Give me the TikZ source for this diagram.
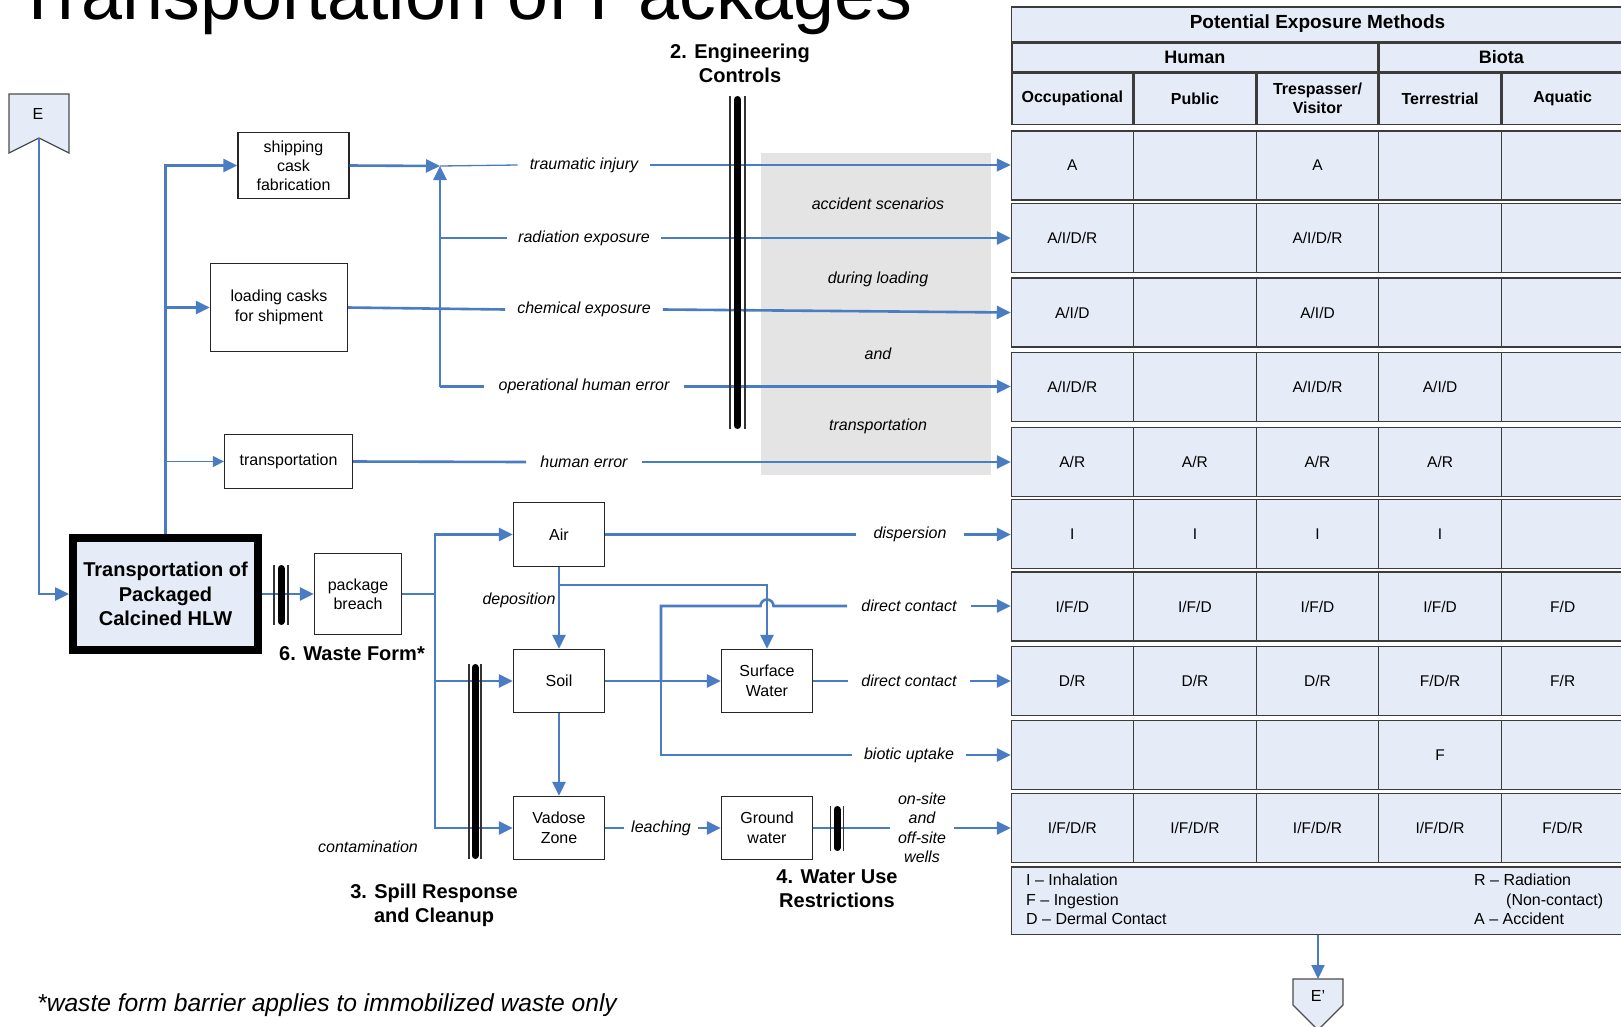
\documentclass[tikz,border=0pt]{standalone}
\usepackage{fontspec}
\setmainfont{Liberation Sans}
\usetikzlibrary{arrows.meta,calc}

\definecolor{flowblue}{RGB}{74,124,196}
\definecolor{cellfill}{RGB}{230,236,247}
\definecolor{shade}{RGB}{228,228,228}
\definecolor{rulegray}{RGB}{60,60,60}

\newcommand\fsz[2]{\fontsize{#1}{#2}\selectfont}

% barrier symbol: thick bar between two thin rules (x, top, bottom, offset)
\newcommand\barrier[4]{%
  \draw[barside] (#1-#4,#2) -- (#1-#4,#3);
  \draw[barside] (#1+#4,#2) -- (#1+#4,#3);
  \draw[barbar] (#1,#2+3.5) -- (#1,#3-3.5);}

% one data row of the exposure table
\newcommand\tabrow[6]{%
  \node[cell] (t#1a) at (row#1 -| colA) {#2};
  \node[cell] (t#1b) at (row#1 -| colB) {#3};
  \node[cell] (t#1c) at (row#1 -| colC) {#4};
  \node[cell] (t#1d) at (row#1 -| colD) {#5};
  \node[cell] (t#1e) at (row#1 -| colE) {#6};}

\begin{document}
\begin{tikzpicture}[x=1pt,y=-1pt,
  box/.style={draw=black!85,line width=1.3pt,fill=white,align=center,inner sep=0pt,font=\fsz{16}{20}},
  flow/.style={draw=flowblue,line width=2.6pt},
  thinflow/.style={draw=flowblue,line width=1.3pt},
  tip/.style={-{Triangle[length=14pt,width=13pt]}},
  smalltip/.style={-{Triangle[length=11pt,width=11pt]}},
  lbl/.style={font=\fsz{16}{19.5}\itshape,inner ysep=2pt,inner xsep=12pt,align=center},
  heading/.style={font=\fsz{20}{24.5}\bfseries,align=center,inner sep=0pt},
  note/.style={font=\fsz{16}{19}\itshape,inner sep=0pt},
  barbar/.style={line width=7pt,line cap=round,draw=black},
  barside/.style={line width=1.1pt,draw=black!80},
  hdrbox/.style={draw=rulegray,line width=1.5pt,fill=cellfill,inner sep=0pt,align=center},
  rowbox/.style={draw=rulegray,line width=1.5pt,fill=cellfill,minimum width=612pt,minimum height=69pt,inner sep=0pt},
  cell/.style={font=\fsz{15.5}{18},inner sep=0pt},
  graytext/.style={font=\fsz{16}{19}\itshape,inner sep=0pt},
]
\useasboundingbox (0,0) rectangle (1621,1026);
\fill[white] (0,0) rectangle (1621,1026);

% title
\node[anchor=base west,inner sep=0pt,font=\fsz{73.6}{80}] (title) at (15,19) {Transportation of Packages};

% shaded band of accident scenarios
\node[fill=shade,minimum width=230pt,minimum height=322pt,inner sep=0pt] (scenarios) at (876,314) {};
\node[graytext] (sc1) at (878,204) {accident scenarios};
\node[graytext] (sc2) at (878,279) {during loading};
\node[graytext] (sc3) at (878,354) {and};
\node[graytext] (sc4) at (878,426) {transportation};

% exposure table: headers
\node[hdrbox,minimum width=612pt,minimum height=34.5pt,font=\fsz{19}{22}\bfseries] (pem) at (1317.5,24) {Potential Exposure Methods};
\node[hdrbox,minimum width=366pt,minimum height=28.5pt,font=\fsz{18}{21}\bfseries] (human) at (1194.9,57) {Human};
\node[hdrbox,minimum width=244pt,minimum height=28.5pt,font=\fsz{18}{21}\bfseries] (biota) at (1501.4,57) {Biota};
\coordinate (colA) at (1072.3,0);
\coordinate (colB) at (1194.9,0);
\coordinate (colC) at (1317.5,0);
\coordinate (colD) at (1440.1,0);
\coordinate (colE) at (1562.7,0);
\foreach \c/\t in {A/Occupational,B/Public,C/{Trespasser/\\Visitor},D/Terrestrial,E/Aquatic}
  \node[hdrbox,minimum width=121pt,minimum height=51.5pt,font=\fsz{16}{19}\bfseries] (head\c) at ($(col\c)+(0,98.5)$) {\t};

% exposure table: data rows
\foreach \i/\yc in {0/165.5,1/238,2/312.5,3/387,4/462,5/534,6/606.5,7/681,8/755,9/828}{
  \node[rowbox] (row\i) at (1317.5,\yc) {};
  \foreach \xd in {1133.6,1256.2,1378.8,1501.4}
    \draw[draw=rulegray,line width=1.3pt] (\xd,\yc-34.5) -- (\xd,\yc+34.5);
}
\tabrow{0}{A}{}{A}{}{}
\tabrow{1}{A/I/D/R}{}{A/I/D/R}{}{}
\tabrow{2}{A/I/D}{}{A/I/D}{}{}
\tabrow{3}{A/I/D/R}{}{A/I/D/R}{A/I/D}{}
\tabrow{4}{A/R}{A/R}{A/R}{A/R}{}
\tabrow{5}{I}{I}{I}{I}{}
\tabrow{6}{I/F/D}{I/F/D}{I/F/D}{I/F/D}{F/D}
\tabrow{7}{D/R}{D/R}{D/R}{F/D/R}{F/R}
\tabrow{8}{}{}{}{F}{}
\tabrow{9}{I/F/D/R}{I/F/D/R}{I/F/D/R}{I/F/D/R}{F/D/R}

% legend
\node[rowbox,minimum height=67.5pt] (legend) at (1317.5,900.5) {};
\node[anchor=north west,inner sep=0pt,align=left,font=\fsz{16}{19.5}] (legL) at (1026,874) {I – Inhalation\\F – Ingestion\\D – Dermal Contact};
\node[anchor=north west,inner sep=0pt,align=left,font=\fsz{16}{19.5}] (legR) at (1474,874) {R – Radiation\\\hspace*{32pt}(Non-contact)\\A – Accident};

% off-page connectors
\draw[draw=black!70,line width=1.2pt,fill=cellfill] (9,94) -- (69,94) -- (69,153) -- (39,138) -- (9,153) -- cycle;
\node[font=\fsz{16}{19},inner sep=0pt] (E) at (38,114) {E};
\coordinate (Enotch) at (39,138);
\draw[draw=black!70,line width=1.2pt,fill=cellfill] (1293,979) -- (1343,979) -- (1343,1005) -- (1318,1030) -- (1293,1005) -- cycle;
\node[font=\fsz{16}{19},inner sep=0pt] (Eprime) at (1318,996) {E'};
\coordinate (eptop) at (1318,979);

% process boxes
\node[draw=black,line width=8pt,fill=cellfill,minimum width=185pt,minimum height=112pt,inner sep=0pt,align=center,font=\fsz{20}{24.5}\bfseries] (hlw) at (165.5,594) {Transportation of\\Packaged\\Calcined HLW};
\node[box,minimum width=111pt,minimum height=66pt,font=\fsz{16}{19}] (cask) at (293.5,165.5) {shipping\\cask\\fabrication};
\node[box,minimum width=137pt,minimum height=88pt] (loading) at (279,307.5) {loading casks\\for shipment};
\node[box,minimum width=128pt,minimum height=54pt] (transp) at (288.5,461.5) {transportation};
\node[box,minimum width=87pt,minimum height=81pt,font=\fsz{16}{19}] (breach) at (358,594) {package\\breach};
\node[box,minimum width=91pt,minimum height=64pt] (air) at (559,534.5) {Air};
\node[box,minimum width=91pt,minimum height=63pt] (soil) at (559,681) {Soil};
\node[box,minimum width=91pt,minimum height=63pt] (vadose) at (559,828) {Vadose\\Zone};
\node[box,minimum width=91pt,minimum height=63pt] (sw) at (767,681) {Surface\\Water};
\node[box,minimum width=91pt,minimum height=63pt] (gw) at (767,828) {Ground\\water};

% pathway labels
\node[lbl] (l_trauma) at (584,165) {traumatic injury};
\node[lbl,inner xsep=11pt] (l_rad) at (584,238) {radiation exposure};
\node[lbl] (l_chem) at (584,309.5) {chemical exposure};
\node[lbl,inner xsep=14pt] (l_oper) at (584,386.5) {operational human error};
\node[lbl,inner xsep=14pt] (l_human) at (584,462) {human error};
\node[lbl,inner xsep=17pt] (l_disp) at (910,534.5) {dispersion};
\node[lbl,inner xsep=14pt] (l_dc1) at (909,606) {direct contact};
\node[lbl,inner xsep=13pt] (l_dc2) at (909,681) {direct contact};
\node[lbl] (l_biotic) at (909,755) {biotic uptake};
\node[lbl,inner xsep=7pt] (l_leach) at (661,828) {leaching};
\node[lbl,inner xsep=8pt] (l_wells) at (922,828) {on-site\\and\\off-site\\wells};
\node[note] (deposition) at (519,600) {deposition};
\node[note] (contam) at (368,847) {contamination};

% connectors: upper branch
\coordinate (jn) at (440,166);
\draw[flow,tip] (Enotch) |- (hlw.west);
\draw[flow,tip] (hlw.north) |- (cask.west);
\draw[flow,tip] (hlw.north |- loading.west) -- (loading.west);
\draw[thinflow,smalltip] (hlw.north |- transp.west) -- (transp.west);
\draw[flow,tip] (cask.east) -- (jn);
\draw[flow,tip] (jn |- l_oper) -- (jn);
\draw[thinflow] (jn) -- (l_trauma.west);
\draw[thinflow,tip] (l_trauma.east) -- (l_trauma.east -| row0.west);
\draw[flow] (jn |- l_rad) -- (l_rad.west);
\draw[flow,tip] (l_rad.east) -- (l_rad.east -| row1.west);
\draw[flow] (loading.east) -- (l_chem.west);
\draw[flow,tip] (l_chem.east) -- (row2.west);
\draw[flow] (jn |- l_oper) -- (l_oper.west);
\draw[flow,tip] (l_oper.east) -- (l_oper.east -| row3.west);
\draw[flow] (transp.east) -- (l_human.west);
\draw[flow,tip] (l_human.east) -- (l_human.east -| row4.west);

% connectors: release branch
\coordinate (bj) at (435,594);
\coordinate (dj) at (559,585);
\coordinate (sj) at (661,681);
\draw[flow,tip] (hlw.east) -- (breach.west);
\draw[flow] (breach.east) -- (bj);
\draw[flow,tip] (bj) |- (air.west);
\draw[flow,tip] (bj) |- (soil.west);
\draw[flow,tip] (bj) |- (vadose.west);
\draw[flow] (air.east) -- (l_disp.west);
\draw[flow,tip] (l_disp.east) -- (l_disp.east -| row5.west);
\draw[flow,tip] (air.south) -- (soil.north);
\draw[flow,tip] (dj) -| (sw.north);
\draw[flow,tip] (soil.east) -- (sw.west);
\draw[flow] (sj) |- ([xshift=-6.5pt]sw.north |- l_dc1) arc[start angle=180,end angle=0,radius=6.5pt] -- (l_dc1.west);
\draw[flow,tip] (l_dc1.east) -- (l_dc1.east -| row6.west);
\draw[flow] (sj) |- (l_biotic.west);
\draw[flow,tip] (l_biotic.east) -- (l_biotic.east -| row8.west);
\draw[flow] (sw.east) -- (l_dc2.west);
\draw[flow,tip] (l_dc2.east) -- (l_dc2.east -| row7.west);
\draw[flow,tip] (soil.south) -- (vadose.north);
\draw[flow] (vadose.east) -- (l_leach.west);
\draw[flow,tip] (l_leach.east) -- (gw.west);
\draw[flow] (gw.east) -- (l_wells.west);
\draw[flow,tip] (l_wells.east) -- (l_wells.east -| row9.west);
\draw[draw=flowblue,line width=2pt,tip] (legend.south -| Eprime) -- (eptop);

% barriers
\barrier{737.5}{96}{429}{7.5}
\barrier{281}{565}{625}{7}
\barrier{475}{664}{859}{6}
\barrier{837}{806}{851}{6.5}

% barrier captions and footnote
\node[heading] (engctl) at (740,63.5) {2. Engineering\\Controls};
\node[heading] (wasteform) at (352,654) {6. Waste Form*};
\node[heading] (spill) at (434,905.5) {3. Spill Response\\and Cleanup};
\node[heading] (wateruse) at (837,888.5) {4. Water Use\\Restrictions};
\node[anchor=base west,inner sep=0pt,font=\fsz{24.6}{28}\itshape] (footnote) at (37,1011) {*waste form barrier applies to immobilized waste only};
\end{tikzpicture}
\end{document}
